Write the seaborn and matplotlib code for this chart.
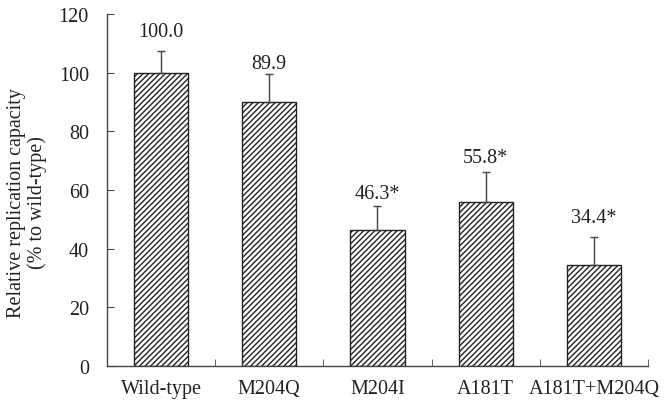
import numpy as np
import pandas as pd
import seaborn as sns
import matplotlib.pyplot as plt

strains = ["Wild-type", "M204Q", "M204I", "A181T", "A181T+M204Q"]
capacity = [100.0, 89.9, 46.3, 55.8, 34.4]
sd = [7.4, 9.5, 8.3, 10.3, 9.7]
labels = ["100.0", "89.9", "46.3*", "55.8*", "34.4*"]
# gap between error bar top and label baseline (points), set by hand in original
label_gap = [10.8, 4.3, 5.8, 7.2, 10.8]

df = pd.DataFrame({"strain": strains, "capacity": capacity})

sns.set_style("ticks")
plt.rcParams["font.family"] = ["Liberation Serif", "DejaVu Serif"]
plt.rcParams["hatch.linewidth"] = 1.0

fig = plt.figure(figsize=(6.64, 4.06), dpi=100)
ax = fig.add_axes([0.161, 0.096, 0.815, 0.867])

sns.barplot(data=df, x="strain", y="capacity", color="white", edgecolor="#222222",
            linewidth=1.0, width=0.5, hatch="//////", errorbar=None, ax=ax)

x = np.arange(len(strains))
ax.errorbar(x, capacity, yerr=[np.zeros(len(sd)), sd], fmt="none",
            ecolor="#444444", elinewidth=1.0, capsize=3, capthick=1.0)

for xi, v, e, lab, g in zip(x, capacity, sd, labels, label_gap):
    ax.annotate(lab, (xi, v + e), xytext=(0, g), textcoords="offset points",
                ha="center", va="baseline", fontsize=14.5, color="#222222")

ax.set_xlim(-0.5, len(strains) - 0.5)
ax.set_ylim(0, 120)
ax.set_yticks(range(0, 121, 20))
ax.set_xlabel("")
ax.set_ylabel("Relative replication capacity\n(% to wild-type)", fontsize=14.5,
              color="#222222", linespacing=1.1)
ax.yaxis.set_label_coords(-0.11, 0.466)

ax.set_xticks(np.arange(-0.5, len(strains)), minor=True)
ax.tick_params(axis="x", which="major", length=0, labelsize=14.5, pad=9, colors="#222222")
ax.tick_params(axis="x", which="minor", direction="in", length=5, color="#444444")
ax.tick_params(axis="y", direction="in", length=5, labelsize=14.5, pad=13, colors="#222222")
ax.tick_params(axis="y", color="#444444")

sns.despine(ax=ax)
for s in ["left", "bottom"]:
    ax.spines[s].set_color("#444444")
    ax.spines[s].set_linewidth(1.0)

fig.savefig("out.png", dpi=100)
